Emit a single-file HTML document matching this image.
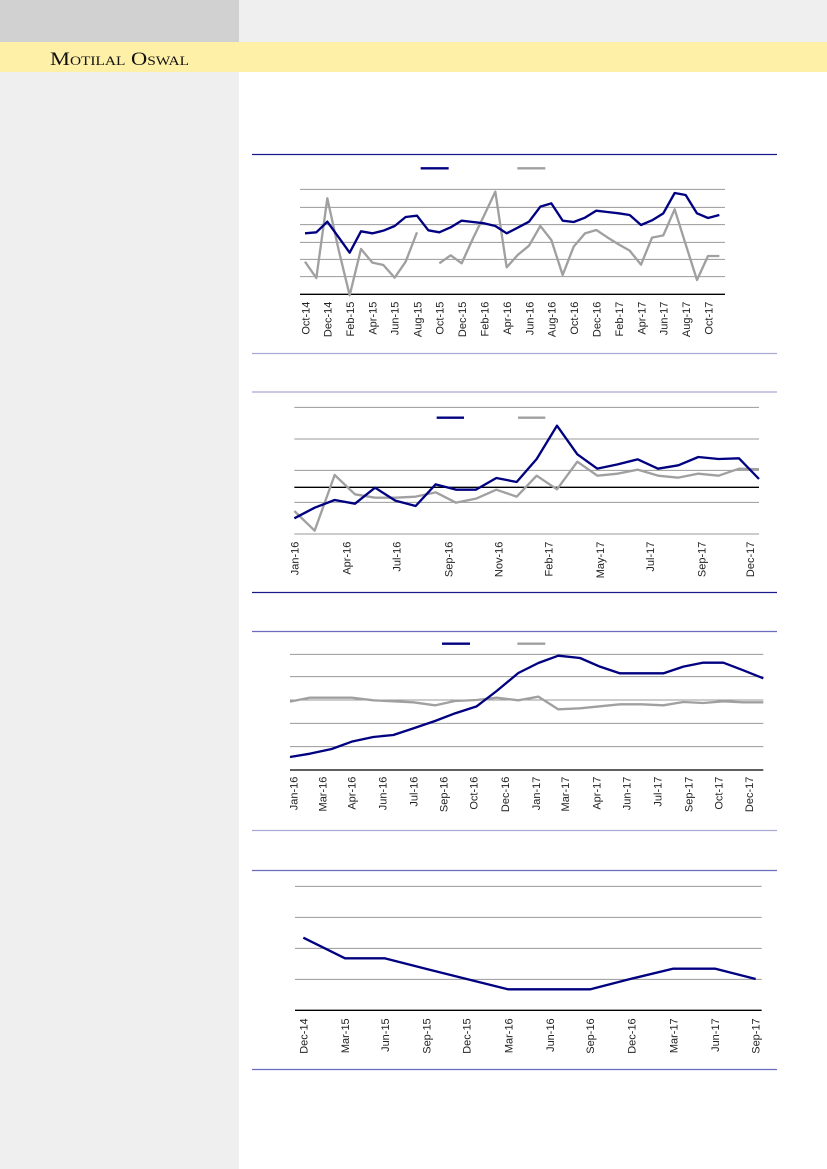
<!DOCTYPE html>
<html><head><meta charset="utf-8"><style>
html,body{margin:0;padding:0;background:#fff}
svg{display:block}
text{font-family:"Liberation Sans",sans-serif;fill:#222}
</style></head><body>
<svg width="827" height="1169" viewBox="0 0 827 1169" xmlns="http://www.w3.org/2000/svg">
<rect x="0" y="0" width="827" height="1169" fill="#fff"/>
<rect x="0" y="0" width="239" height="1169" fill="#efefef"/>
<rect x="0" y="0" width="239" height="42" fill="#d1d1d1"/>
<rect x="239" y="0" width="588" height="42" fill="#efefef"/>
<rect x="0" y="42" width="827" height="30" fill="#fff0a8"/>
<text x="50" y="65" textLength="139" lengthAdjust="spacingAndGlyphs" style="font-family:'Liberation Serif',serif;font-variant:small-caps;font-size:19px;fill:#111">Motilal Oswal</text>

<line x1="252" y1="154.5" x2="777" y2="154.5" stroke="#1a1a8a" stroke-width="1.3"/>
<line x1="252" y1="353.5" x2="777" y2="353.5" stroke="#a9a9d6" stroke-width="1.3"/>
<line x1="252" y1="392" x2="777" y2="392" stroke="#a9a9d6" stroke-width="1.3"/>
<line x1="252" y1="592.5" x2="777" y2="592.5" stroke="#1a1a8a" stroke-width="1.3"/>
<line x1="252" y1="631.5" x2="777" y2="631.5" stroke="#6b6bc0" stroke-width="1.3"/>
<line x1="252" y1="830.5" x2="777" y2="830.5" stroke="#a9a9d6" stroke-width="1.3"/>
<line x1="252" y1="870.5" x2="777" y2="870.5" stroke="#6b6bc0" stroke-width="1.3"/>
<line x1="252" y1="1069.5" x2="777" y2="1069.5" stroke="#6b6bc0" stroke-width="1.3"/>

<g transform="translate(250,150) scale(0.33333)">
<g stroke="#999" stroke-width="3">
<line x1="150" y1="118" x2="1425" y2="118"/><line x1="150" y1="172" x2="1425" y2="172"/>
<line x1="150" y1="224" x2="1425" y2="224"/><line x1="150" y1="277" x2="1425" y2="277"/>
<line x1="150" y1="328" x2="1425" y2="328"/><line x1="150" y1="380" x2="1425" y2="380"/>
</g>
<line x1="150" y1="433" x2="1425" y2="433" stroke="#000" stroke-width="4"/>
<line x1="512" y1="55" x2="596" y2="55" stroke="#000080" stroke-width="7"/>
<line x1="802" y1="55" x2="886" y2="55" stroke="#a0a0a0" stroke-width="7"/>
<polyline fill="none" stroke="#a0a0a0" stroke-width="7" stroke-linejoin="round" points="165,335 199,384 232,145 266,300 299,436 333,297 367,338 400,345 434,383 467,335 501,247"/>
<polyline fill="none" stroke="#a0a0a0" stroke-width="7" stroke-linejoin="round" points="568,340 602,316 635,340 669,265 703,195 736,125 770,352 803,315 837,287 871,228 904,270 938,375 971,290 1005,250 1039,240 1072,262 1106,283 1139,302 1173,344 1206,263 1240,256 1274,178 1307,283 1341,390 1374,318 1408,318"/>
<polyline fill="none" stroke="#000080" stroke-width="7" stroke-linejoin="round" points="165,250 199,247 232,215 266,262 299,308 333,244 367,250 400,242 434,228 467,201 501,197 535,241 568,247 602,232 635,212 669,216 703,220 736,228 770,250 803,233 837,215 871,170 904,160 938,212 971,216 1005,203 1039,182 1072,186 1106,190 1139,195 1173,225 1206,211 1240,190 1274,129 1307,135 1341,190 1374,204 1408,195"/>
<g font-size="33" text-anchor="end">
<text transform="translate(178,455) rotate(-90)">Oct-14</text>
<text transform="translate(245,455) rotate(-90)">Dec-14</text>
<text transform="translate(312,455) rotate(-90)">Feb-15</text>
<text transform="translate(379,455) rotate(-90)">Apr-15</text>
<text transform="translate(446,455) rotate(-90)">Jun-15</text>
<text transform="translate(514,455) rotate(-90)">Aug-15</text>
<text transform="translate(581,455) rotate(-90)">Oct-15</text>
<text transform="translate(648,455) rotate(-90)">Dec-15</text>
<text transform="translate(716,455) rotate(-90)">Feb-16</text>
<text transform="translate(783,455) rotate(-90)">Apr-16</text>
<text transform="translate(850,455) rotate(-90)">Jun-16</text>
<text transform="translate(917,455) rotate(-90)">Aug-16</text>
<text transform="translate(984,455) rotate(-90)">Oct-16</text>
<text transform="translate(1052,455) rotate(-90)">Dec-16</text>
<text transform="translate(1119,455) rotate(-90)">Feb-17</text>
<text transform="translate(1186,455) rotate(-90)">Apr-17</text>
<text transform="translate(1253,455) rotate(-90)">Jun-17</text>
<text transform="translate(1320,455) rotate(-90)">Aug-17</text>
<text transform="translate(1387,455) rotate(-90)">Oct-17</text>
</g>
</g>

<g transform="translate(250,385) scale(0.33333)">
<g stroke="#999" stroke-width="3">
<line x1="133" y1="67" x2="1527" y2="67"/><line x1="133" y1="162" x2="1527" y2="162"/>
<line x1="133" y1="256" x2="1527" y2="256"/><line x1="133" y1="352" x2="1527" y2="352"/>
<line x1="133" y1="447" x2="1527" y2="447"/>
</g>
<line x1="133" y1="307" x2="1527" y2="307" stroke="#000" stroke-width="4"/>
<line x1="560" y1="98" x2="642" y2="98" stroke="#000080" stroke-width="7"/>
<line x1="804" y1="98" x2="886" y2="98" stroke="#a0a0a0" stroke-width="7"/>
<polyline fill="none" stroke="#a0a0a0" stroke-width="7" stroke-linejoin="round" points="133,378 194,437 254,270 315,328 375,338 436,338 497,335 557,322 618,353 678,341 739,314 800,335 860,272 921,313 982,230 1042,272 1103,266 1163,254 1224,272 1285,278 1345,266 1406,272 1467,251 1527,253"/>
<polyline fill="none" stroke="#000080" stroke-width="7" stroke-linejoin="round" points="133,400 194,368 254,345 315,356 375,308 436,347 497,363 557,298 618,314 678,314 739,279 800,291 860,222 921,122 982,208 1042,251 1103,238 1163,223 1224,251 1285,241 1345,216 1406,222 1467,220 1527,282"/>
<g font-size="33" text-anchor="end">
<text transform="translate(145,470) rotate(-90)">Jan-16</text>
<text transform="translate(302,470) rotate(-90)">Apr-16</text>
<text transform="translate(452,470) rotate(-90)">Jul-16</text>
<text transform="translate(607,470) rotate(-90)">Sep-16</text>
<text transform="translate(757,470) rotate(-90)">Nov-16</text>
<text transform="translate(907,470) rotate(-90)">Feb-17</text>
<text transform="translate(1062,470) rotate(-90)">May-17</text>
<text transform="translate(1212,470) rotate(-90)">Jul-17</text>
<text transform="translate(1367,470) rotate(-90)">Sep-17</text>
<text transform="translate(1512,470) rotate(-90)">Dec-17</text>
</g>
</g>

<g transform="translate(250,625) scale(0.33333)">
<g stroke="#999" stroke-width="3">
<line x1="120" y1="88" x2="1540" y2="88"/><line x1="120" y1="155" x2="1540" y2="155"/>
<line x1="120" y1="225" x2="1540" y2="225"/><line x1="120" y1="295" x2="1540" y2="295"/>
<line x1="120" y1="365" x2="1540" y2="365"/>
</g>
<line x1="120" y1="435" x2="1540" y2="435" stroke="#000" stroke-width="4"/>
<line x1="576" y1="56" x2="660" y2="56" stroke="#000080" stroke-width="7"/>
<line x1="802" y1="56" x2="886" y2="56" stroke="#a0a0a0" stroke-width="7"/>
<polyline fill="none" stroke="#a0a0a0" stroke-width="7" stroke-linejoin="round" points="120,230 180,218 245,218 305,218 370,226 430,229 490,232 555,241 615,228 680,225 740,218 805,226 865,215 925,253 990,250 1050,244 1110,238 1175,238 1240,241 1300,231 1360,234 1420,229 1480,232 1540,232"/>
<polyline fill="none" stroke="#000080" stroke-width="7" stroke-linejoin="round" points="120,396 180,386 245,372 305,350 370,336 430,330 490,310 555,288 615,265 680,244 740,198 805,144 865,114 925,92 990,99 1050,125 1110,145 1175,145 1240,145 1300,125 1360,113 1420,113 1480,136 1540,160"/>
<g font-size="33" text-anchor="end">
<text transform="translate(142,455) rotate(-90)">Jan-16</text>
<text transform="translate(230,455) rotate(-90)">Mar-16</text>
<text transform="translate(317,455) rotate(-90)">Apr-16</text>
<text transform="translate(410,455) rotate(-90)">Jun-16</text>
<text transform="translate(502,455) rotate(-90)">Jul-16</text>
<text transform="translate(592,455) rotate(-90)">Sep-16</text>
<text transform="translate(682,455) rotate(-90)">Oct-16</text>
<text transform="translate(777,455) rotate(-90)">Dec-16</text>
<text transform="translate(870,455) rotate(-90)">Jan-17</text>
<text transform="translate(957,455) rotate(-90)">Mar-17</text>
<text transform="translate(1052,455) rotate(-90)">Apr-17</text>
<text transform="translate(1142,455) rotate(-90)">Jun-17</text>
<text transform="translate(1234,455) rotate(-90)">Jul-17</text>
<text transform="translate(1327,455) rotate(-90)">Sep-17</text>
<text transform="translate(1417,455) rotate(-90)">Oct-17</text>
<text transform="translate(1509,455) rotate(-90)">Dec-17</text>
</g>
</g>

<g transform="translate(250,865) scale(0.33333)">
<g stroke="#999" stroke-width="3">
<line x1="135" y1="64" x2="1535" y2="64"/><line x1="135" y1="157" x2="1535" y2="157"/>
<line x1="135" y1="250" x2="1535" y2="250"/><line x1="135" y1="343" x2="1535" y2="343"/>
</g>
<line x1="135" y1="436" x2="1535" y2="436" stroke="#000" stroke-width="4"/>
<polyline fill="none" stroke="#000080" stroke-width="7" stroke-linejoin="round" points="160,218 285,280 405,280 530,312 650,342 775,373 900,373 1020,373 1145,341 1270,311 1395,311 1517,342"/>
<g font-size="33" text-anchor="end">
<text transform="translate(172,460) rotate(-90)">Dec-14</text>
<text transform="translate(297,460) rotate(-90)">Mar-15</text>
<text transform="translate(417,460) rotate(-90)">Jun-15</text>
<text transform="translate(542,460) rotate(-90)">Sep-15</text>
<text transform="translate(662,460) rotate(-90)">Dec-15</text>
<text transform="translate(787,460) rotate(-90)">Mar-16</text>
<text transform="translate(912,460) rotate(-90)">Jun-16</text>
<text transform="translate(1032,460) rotate(-90)">Sep-16</text>
<text transform="translate(1157,460) rotate(-90)">Dec-16</text>
<text transform="translate(1282,460) rotate(-90)">Mar-17</text>
<text transform="translate(1407,460) rotate(-90)">Jun-17</text>
<text transform="translate(1529,460) rotate(-90)">Sep-17</text>
</g>
</g>
</svg>
</body></html>
